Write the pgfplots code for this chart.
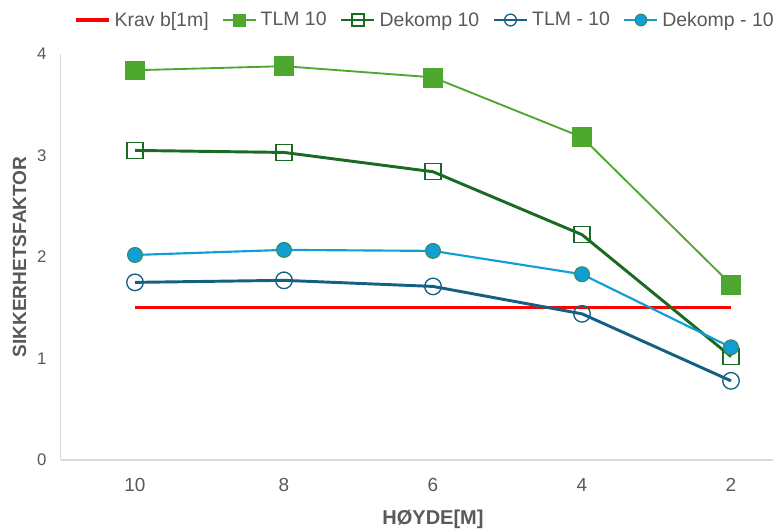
\documentclass[border=0pt]{standalone}
\usepackage{pgfplots}
\pgfplotsset{compat=1.18}
\usepackage{fontspec}
\setmainfont{Liberation Sans}

\definecolor{kravred}{HTML}{FF0000}
\definecolor{tlmgreen}{HTML}{4EA72E}
\definecolor{dekgreen}{HTML}{196B24}
\definecolor{tlmblue}{HTML}{156082}
\definecolor{dekblue}{HTML}{0F9ED5}
\definecolor{dekedge}{HTML}{3C8A5A}
\definecolor{txtgray}{HTML}{595959}
\definecolor{axisgray}{HTML}{D9D9D9}

\begin{document}
\begin{tikzpicture}
\useasboundingbox (0,0) rectangle (579.75pt,398.25pt);
\begin{axis}[
  at={(45.375pt,53.25pt)}, anchor=south west,
  scale only axis,
  width=534.375pt, height=304.5pt,
  xmin=-0.5, xmax=4.2819,
  ymin=0, ymax=4,
  xtick={0,1,2,3,4},
  xticklabels={10,8,6,4,2},
  ytick={0,1,2,3,4},
  major tick length=0pt,
  axis x line=bottom, axis y line=left,
  x axis line style={-, draw=axisgray, line width=0.9pt},
  y axis line style={-, draw=axisgray, line width=0.9pt},
  /pgf/number format/assume math mode=true,
  xticklabel style={font=\fontsize{14.2}{17}\selectfont, text=txtgray, yshift=-10pt},
  yticklabel style={font=\fontsize{12.6}{15}\selectfont, text=txtgray, xshift=-7pt},
  xlabel={HØYDE[M]},
  ylabel={SIKKERHETSFAKTOR},
  xlabel style={font=\bfseries\fontsize{15}{18}\selectfont, text=txtgray,
    at={(axis description cs:0.5228,-0.1453)}, anchor=center},
  ylabel style={font=\bfseries\fontsize{14.3}{17}\selectfont, text=txtgray,
    at={(axis description cs:-0.0575,0.5)}, anchor=center},
  clip=false,
  legend columns=5,
  legend style={at={(axis description cs:0.5123,1.0837)}, anchor=center,
    draw=none, fill=none, font=\fontsize{14.6}{17}\selectfont, text=txtgray,
    inner sep=0pt, column sep=0pt,
    /tikz/every odd column/.style={column sep=0.8pt},
    /tikz/every even column/.style={column sep=8pt}},
  legend image code/.code={%
    \draw[mark repeat=2,mark phase=2] plot coordinates {(0pt,0pt)(12.4pt,0pt)(24.75pt,0pt)};},
]
% minimum requirement
\addplot[kravred, line width=2.4pt, mark=none]
  coordinates {(0,1.5)(1,1.5)(2,1.5)(3,1.5)(4,1.5)};
\addlegendentry{Krav b[1m]}
% TLM, 10
\addplot[tlmgreen, line width=1.4pt, mark=square*, mark size=7.1pt,
  mark options={fill=tlmgreen, draw=tlmgreen, line width=0.4pt},
  legend image post style={mark size=4.4pt}]
  coordinates {(0,3.84)(1,3.88)(2,3.77)(3,3.18)(4,1.73)};
\addlegendentry{TLM 10}
% Dekomp, 10
\addplot[dekgreen, line width=2.2pt, mark=square, mark size=6pt,
  mark options={draw=dekgreen, line width=1pt, fill=none},
  legend image post style={mark size=4.4pt}]
  coordinates {(0,3.05)(1,3.03)(2,2.84)(3,2.22)(4,1.02)};
\addlegendentry{Dekomp 10}
% TLM, -10
\addplot[tlmblue, line width=2.2pt, mark=o, mark size=6.2pt,
  mark options={draw=tlmblue, line width=1pt, fill=none},
  legend image post style={mark size=4.4pt}]
  coordinates {(0,1.75)(1,1.77)(2,1.71)(3,1.44)(4,0.78)};
\addlegendentry{TLM - 10}
% Dekomp, -10
\addplot[dekblue, line width=1.6pt, mark=*, mark size=5.6pt,
  mark options={fill=dekblue, draw=dekedge, line width=0.8pt},
  legend image post style={mark size=4.4pt}]
  coordinates {(0,2.02)(1,2.07)(2,2.06)(3,1.83)(4,1.11)};
\addlegendentry{Dekomp - 10}
\end{axis}
\end{tikzpicture}
\end{document}
